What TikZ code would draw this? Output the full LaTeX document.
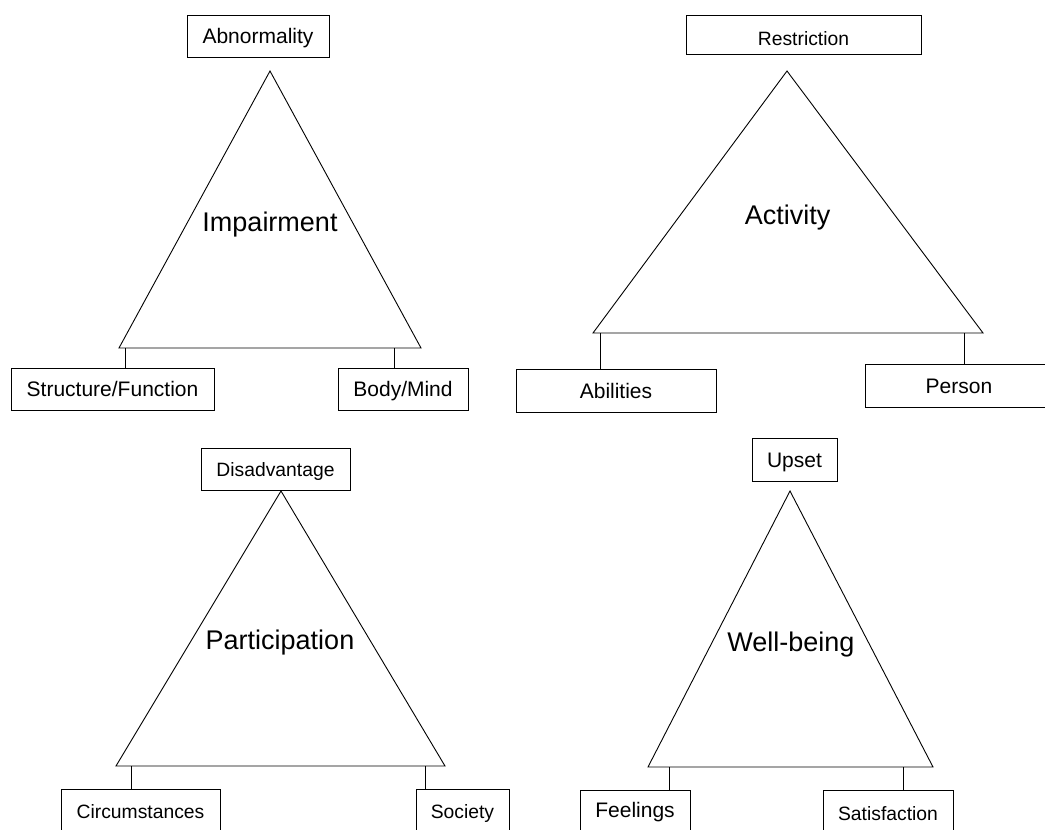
\documentclass[tikz,border=0pt]{standalone}
\usepackage{fontspec}
\setmainfont{Liberation Sans}
\begin{document}
\begin{tikzpicture}[x=1pt,y=-1pt,
  box/.style={draw, line width=1pt, inner sep=0pt, text depth=0pt},
  fa/.style={font=\fontsize{21}{25}\selectfont, text height=15pt},
  fb/.style={font=\fontsize{19.3}{23}\selectfont, text height=13.8pt},
  big/.style={font=\fontsize{27}{32}\selectfont, anchor=base, inner sep=0pt},
  tri/.style={draw, line width=0.9pt, line join=miter},
  conn/.style={draw, line width=1pt}]
\useasboundingbox (0,0) rectangle (1045,830);
\clip (0,0) rectangle (1045,830);
\fill[white] (0,0) rectangle (1045,830);

% ---------- Impairment ----------
\node[box, fa, minimum width=142pt, minimum height=42pt] (abn) at (258,36) {Abnormality};
\coordinate (t1a) at (270,71);
\coordinate (t1l) at (119,348);
\coordinate (t1r) at (421,348);
\draw[tri] (t1a) -- (t1r) -- (t1l) -- cycle;
\node[big] (imp) at (270,231) {Impairment};
\node[box, fa, minimum width=203pt, minimum height=42pt] (sf) at (112.5,389) {Structure/Function};
\node[box, fa, minimum width=130pt, minimum height=42pt] (bm) at (403,389) {Body/Mind};
\coordinate (t1c1) at (125,348);
\coordinate (t1c2) at (394,348);
\draw[conn] (t1c1) -- (sf.north -| t1c1);
\draw[conn] (t1c2) -- (bm.north -| t1c2);

% ---------- Activity ----------
\node[box, fb, minimum width=235pt, minimum height=39pt, text height=20pt] (res) at (803.5,35) {Restriction};
\coordinate (t2a) at (787,71);
\coordinate (t2l) at (593,333);
\coordinate (t2r) at (983,333);
\draw[tri] (t2a) -- (t2r) -- (t2l) -- cycle;
\node[big] (act) at (787.5,224) {Activity};
\node[box, fa, minimum width=200pt, minimum height=43pt] (abi) at (616,390.5) {Abilities};
\node[box, fa, minimum width=188pt, minimum height=43pt] (per) at (959,385.5) {Person};
\coordinate (t2c1) at (600,333);
\coordinate (t2c2) at (964,333);
\draw[conn] (t2c1) -- (abi.north -| t2c1);
\draw[conn] (t2c2) -- (per.north -| t2c2);

% ---------- Participation ----------
\node[box, fb, minimum width=149pt, minimum height=42pt] (dis) at (275.5,469.5) {Disadvantage};
\coordinate (t3a) at (281,491);
\coordinate (t3l) at (116,766);
\coordinate (t3r) at (445,766);
\draw[tri] (t3a) -- (t3r) -- (t3l) -- cycle;
\node[big] (par) at (280,649) {Participation};
\node[box, fb, minimum width=159pt, minimum height=46pt] (cir) at (140.5,812) {Circumstances};
\node[box, fb, minimum width=93pt, minimum height=46pt] (soc) at (462.5,812) {Society};
\coordinate (t3c1) at (131,766);
\coordinate (t3c2) at (425,766);
\draw[conn] (t3c1) -- (cir.north -| t3c1);
\draw[conn] (t3c2) -- (soc.north -| t3c2);

% ---------- Well-being ----------
\node[box, fa, minimum width=85pt, minimum height=43pt] (ups) at (794.5,459.5) {Upset};
\coordinate (t4a) at (790,491);
\coordinate (t4l) at (648,767);
\coordinate (t4r) at (933,767);
\draw[tri] (t4a) -- (t4r) -- (t4l) -- cycle;
\node[big] (wel) at (791,651) {Well-being};
\node[box, fa, minimum width=110pt, minimum height=40pt] (fee) at (635,810) {Feelings};
\node[box, fb, minimum width=130pt, minimum height=48pt] (sat) at (888,814) {Satisfaction};
\coordinate (t4c1) at (669,767);
\coordinate (t4c2) at (903,767);
\draw[conn] (t4c1) -- (fee.north -| t4c1);
\draw[conn] (t4c2) -- (sat.north -| t4c2);
\end{tikzpicture}
\end{document}
